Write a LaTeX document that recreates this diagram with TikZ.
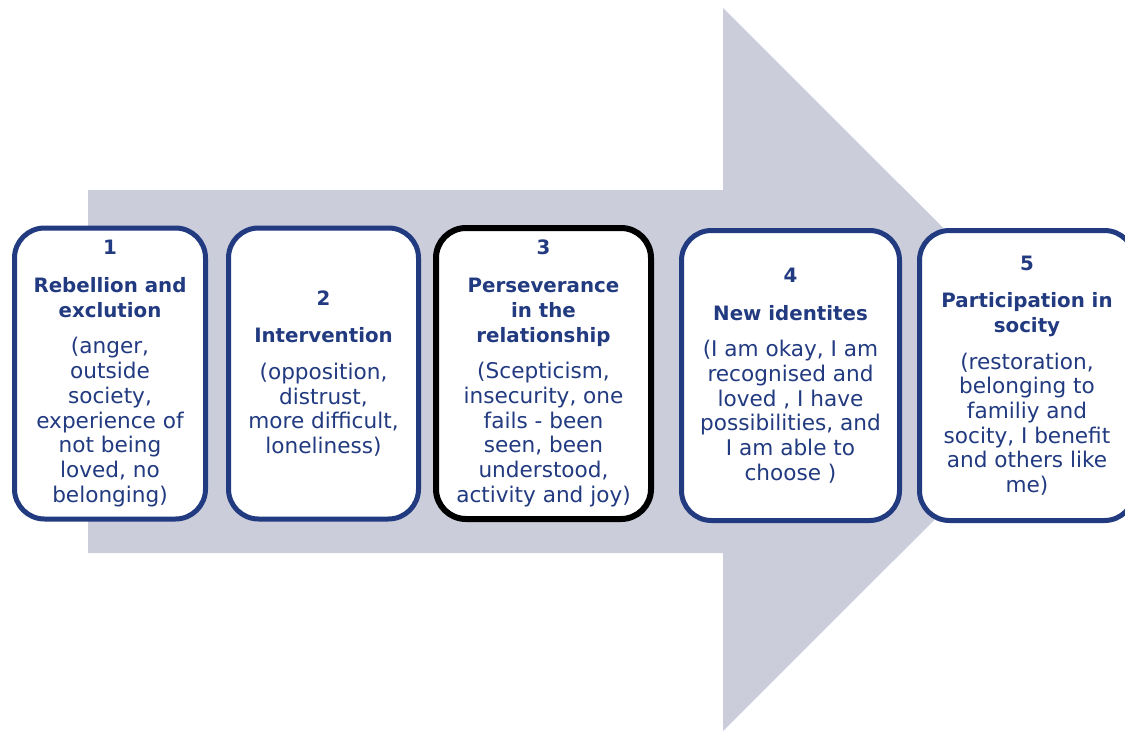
\documentclass[tikz,border=0pt]{standalone}
\usepackage{fontspec}
\setmainfont{DejaVu Sans}
\definecolor{stageblue}{HTML}{213A80}
\definecolor{arrowgrey}{HTML}{CBCDDB}
\newcommand{\stagehead}[1]{{\fontsize{19.8}{24.7}\selectfont\bfseries #1}}

\begin{document}
\begin{tikzpicture}[x=1pt, y=-1pt,
  stage/.style={draw=stageblue, line width=5pt, rounded corners=30pt, fill=white,
    minimum height=291pt, inner sep=0pt, align=center, text=stageblue,
    font={\fontsize{21.6}{24.7}\selectfont}}]
\useasboundingbox (0,0) rectangle (1125,731);

% big arrow in the back
\fill[arrowgrey] (88,190) -- (723,190) -- (723,8) -- (1085,369.5) -- (723,731) -- (723,553) -- (88,553) -- cycle;

\node[stage, minimum width=191pt] (s1) at (110,373.5) {\stagehead{1}\\[13pt]\stagehead{Rebellion and}\\\stagehead{exclution}\\[12pt](anger,\\outside\\society,\\experience of\\not being\\loved, no\\belonging)};
\node[stage, minimum width=190pt] (s2) at (323.5,373.5) {\stagehead{2}\\[13pt]\stagehead{Intervention}\\[12pt](opposition,\\distrust,\\more difficult,\\loneliness)};
\node[stage, minimum width=215pt, draw=black, line width=6pt] (s3) at (543.5,373.5) {\stagehead{3}\\[13pt]\stagehead{Perseverance}\\\stagehead{in the}\\\stagehead{relationship}\\[12pt](Scepticism,\\insecurity, one\\fails - been\\seen, been\\understood,\\activity and joy)};
\node[stage, minimum width=218pt, minimum height=290pt] (s4) at (790.5,375.5) {\stagehead{4}\\[13pt]\stagehead{New identites}\\[12pt](I am okay, I am\\recognised and\\loved , I have\\possibilities, and\\I am able to\\choose )};
\node[stage, minimum width=215pt, minimum height=290pt] (s5) at (1027,375.5) {\stagehead{5}\\[13pt]\stagehead{Participation in}\\\stagehead{socity}\\[12pt](restoration,\\belonging to\\familiy and\\socity, I benefit\\and others like\\me)};

\end{tikzpicture}
\end{document}
